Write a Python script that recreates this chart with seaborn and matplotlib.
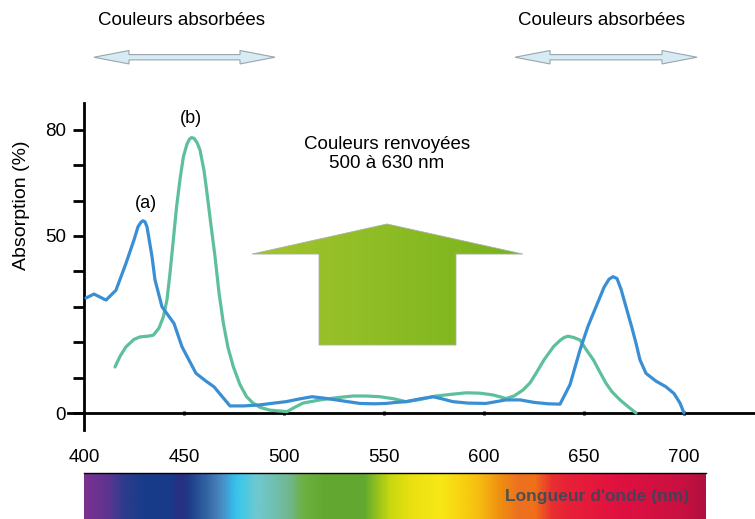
import numpy as np
import pandas as pd
import matplotlib
matplotlib.use("Agg")
import matplotlib.pyplot as plt
from matplotlib.patches import Polygon
from matplotlib.colors import LinearSegmentedColormap, to_rgb
import seaborn as sns

# ---------------- data ----------------
wl_a = [401, 405, 411, 416, 421, 425, 427, 428.5, 429.5, 430.5, 431.5, 434, 435.5, 439, 445, 449,
        456, 461, 465, 473, 480, 488, 495, 501, 508, 514, 520, 526, 532, 538, 545,
        551, 556, 561, 568, 574.5, 579, 584.5, 592, 601, 606, 611, 618, 625, 632,
        638, 643, 648, 652, 656, 660, 662.5, 664.5, 666.5, 668.5, 671, 674, 676, 678, 681, 686, 691,
        695, 698, 700]
abs_a = [32.5, 33.6, 31.9, 34.7, 42.3, 48.9, 52.6, 53.9, 54.3, 54.0, 52.6, 44.2, 37.6, 30.0, 25.3, 18.7,
         11.2, 9.0, 7.4, 2.0, 2.0, 2.3, 2.8, 3.2, 4.0, 4.6, 4.2, 3.7, 3.2, 2.7, 2.6,
         2.7, 3.0, 3.2, 4.0, 4.6, 4.0, 3.2, 2.8, 2.7, 3.2, 3.7, 3.7, 3.0, 2.6,
         2.5, 8.0, 17.8, 24.5, 30.0, 35.5, 37.8, 38.5, 38.0, 35.0, 30.0, 24.0, 19.7, 15.0, 11.2, 9.0, 7.4,
         5.5, 2.8, 0.0]

wl_b = [415.5, 418, 421, 425, 428, 432, 434.7, 437.5, 439.7, 441.5, 443, 444.5, 446.3, 448,
        449.7, 451.5, 452.8, 453.8, 455, 456.5, 458, 460, 461.3, 463.5, 465.5, 467.5, 469.7, 472, 474.7,
        478, 481.3, 484.5, 488, 493, 501.5, 505, 509.5, 518, 526, 534.5, 541, 548, 555,
        561, 568, 576, 584, 591, 598, 604.5, 611, 615, 619.5, 623, 626, 630, 634.7, 638,
        640, 642, 645, 648, 651, 654.7, 658, 661, 664, 668, 672, 676]
abs_b = [13.0, 16.0, 18.7, 20.8, 21.5, 21.7, 22.0, 24.0, 27.2, 32.0, 39.5, 48.0, 58.3, 66.0,
         72.4, 76.0, 77.4, 77.8, 77.6, 76.4, 74.3, 68.5, 63.0, 53.0, 44.2, 34.0, 25.3, 18.5, 13.0,
         8.0, 4.6, 2.8, 1.6, 0.8, 0.4, 1.5, 2.8, 3.7, 4.3, 4.8, 4.8, 4.6, 4.0,
         3.2, 3.8, 4.8, 5.3, 5.7, 5.6, 5.1, 4.1, 4.8, 6.5, 8.5, 11.2, 15.0, 18.7, 20.5,
         21.3, 21.7, 21.3, 20.6, 18.0, 15.0, 11.5, 8.4, 6.0, 3.7, 1.8, 0.0]

x_ticks = [400, 450, 500, 550, 600, 650, 700]
y_ticks = [0, 10, 20, 30, 40, 50, 60, 70, 80]
y_tick_labels = ["0", "", "", "", "", "50", "", "", "80"]

spectrum_nm = [400, 412, 420, 430, 443, 448, 452, 460, 468, 474, 478, 486, 495, 502, 510,
               520, 540, 546, 553, 563, 578, 590, 598, 608, 618, 626, 634, 643, 668, 700, 711]
spectrum_col = ["#7a3090", "#5a3590", "#2a3c8c", "#173c8a", "#1a3a88", "#2a2e80", "#1e3c8a",
                "#3060a0", "#4a88c0", "#38b8e8", "#40c8e8", "#70c8d0", "#70c0b0", "#70b890",
                "#6cb040", "#62a830", "#62a830", "#90c020", "#c8d810", "#e8e010", "#f8e818",
                "#f8d010", "#f6bc10", "#f09010", "#ec7020", "#f07018", "#e83030", "#e82038",
                "#e01040", "#c81040", "#b01040"]

df_a = pd.DataFrame({"wl": wl_a, "abs": abs_a})
df_b = pd.DataFrame({"wl": wl_b, "abs": abs_b})

# ---------------- style ----------------
sns.set_theme(style="white")
plt.rcParams["font.family"] = ["Liberation Sans", "DejaVu Sans"]
plt.rcParams["text.color"] = "black"
plt.rcParams["axes.labelcolor"] = "black"
plt.rcParams["xtick.color"] = "black"
plt.rcParams["ytick.color"] = "black"

W, H = 755, 519
fig = plt.figure(figsize=(W / 100, H / 100), dpi=100)

# main axes: px x 60..755 , px y 0..445
x_lo = 400 + (60 - 84) / 2
x_hi = 400 + (755 - 84) / 2
y_top = 413 / 3.54
y_bot = (413 - 445) / 3.54
ax = fig.add_axes([60 / W, (H - 445) / H, (W - 60) / W, 445 / H])
ax.set_facecolor("none")

sns.lineplot(data=df_a, x="wl", y="abs", color="#3a8fd4", lw=2.3, estimator=None, ax=ax, zorder=4)
sns.lineplot(data=df_b, x="wl", y="abs", color="#5ec09a", lw=2.3, estimator=None, ax=ax, zorder=3)
for ln in ax.lines:
    ln.set_solid_joinstyle("round")
    ln.set_solid_capstyle("round")

for s in ["top", "right"]:
    ax.spines[s].set_visible(False)
ax.spines["left"].set_position(("data", 400))
ax.spines["left"].set_bounds((413 - 430) / 3.54, (413 - 103) / 3.54)
ax.spines["bottom"].set_position(("data", 0))
ax.spines["bottom"].set_bounds(400 + (68 - 84) / 2, x_hi)
for s in ["left", "bottom"]:
    ax.spines[s].set_color("black")
    ax.spines[s].set_linewidth(2.0)

ax.set_yticks(y_ticks)
ax.set_yticklabels(y_tick_labels)
ax.tick_params(axis="y", direction="out", length=8, width=2, pad=5, labelsize=13.5,
               colors="black", labelcolor="black", left=True)
ax.set_xticks(x_ticks[1:])
ax.set_xticklabels([])
ax.tick_params(axis="x", direction="inout", length=2.5, width=2, bottom=True, colors="black")
ax.set_xlabel("")
ax.set_ylabel("")

# annotations
ax.text(431, 59.3, "(a)", ha="center", va="center", fontsize=13, color="black")
ax.text(453.5, 83.3, "(b)", ha="center", va="center", fontsize=13, color="black")
ax.text(551.5, 73.2, "Couleurs renvoyées\n500 à 630 nm", ha="center", va="center",
        fontsize=13.5, linespacing=1.15, color="black")

for xc in (449, 659):
    ax.text(xc, 111, "Couleurs absorbées", ha="center", va="center", fontsize=13.5, color="black")

def double_arrow(x0, x1, y, hl=17.5, hw=1.9, sw=0.75):
    pts = [(x0, y), (x0 + hl, y + hw), (x0 + hl, y + sw), (x1 - hl, y + sw), (x1 - hl, y + hw),
           (x1, y), (x1 - hl, y - hw), (x1 - hl, y - sw), (x0 + hl, y - sw), (x0 + hl, y - hw)]
    return Polygon(pts, closed=True, facecolor="#d6ebf4", edgecolor="#9aa5ad", lw=0.8, zorder=2)

ax.add_patch(double_arrow(405, 495.5, 100.5))
ax.add_patch(double_arrow(615.5, 706.5, 100.5))

# big green block arrow with horizontal gradient
tip = (551.5, 53.4)
wing_y = 44.9
arrow_pts = [(484, wing_y), tip, (619.5, wing_y), (586, wing_y), (586, 19.2),
             (517.5, 19.2), (517.5, wing_y)]
arrow_poly = Polygon(arrow_pts, closed=True, facecolor="none", edgecolor="#a9b3a0", lw=0.6, zorder=3)
ax.add_patch(arrow_poly)
c0, c1 = np.array(to_rgb("#a3c52d")), np.array(to_rgb("#77b31c"))
t = np.linspace(0, 1, 256)
grad = (c0[None, :] * (1 - t[:, None]) + c1[None, :] * t[:, None])[None, :, :]
im = ax.imshow(grad, extent=[484, 619.5, 19.2, 53.4], aspect="auto", zorder=2.5, interpolation="bilinear")
im.set_clip_path(arrow_poly)

ax.set_xlim(x_lo, x_hi)
ax.set_ylim(y_bot, y_top)

fig.text(22 / W, 1 - 205 / H, "Absorption (%)", rotation=90, ha="center", va="center",
         fontsize=14, color="black")

# spectrum bar
axs = fig.add_axes([84 / W, 0, (706 - 84) / W, 46 / H])
pos = [(v - spectrum_nm[0]) / (spectrum_nm[-1] - spectrum_nm[0]) for v in spectrum_nm]
cmap = LinearSegmentedColormap.from_list("spec", list(zip(pos, spectrum_col)))
axs.imshow(np.linspace(0, 1, 800)[None, :], cmap=cmap, aspect="auto",
           extent=[spectrum_nm[0], spectrum_nm[-1], 0, 1], interpolation="bilinear")
axs.set_xlim(spectrum_nm[0], spectrum_nm[-1])
axs.set_ylim(0, 1)
for s in ["left", "right", "bottom"]:
    axs.spines[s].set_visible(False)
axs.spines["top"].set_color("black")
axs.spines["top"].set_linewidth(1.0)
axs.set_yticks([])
axs.xaxis.tick_top()
axs.set_xticks(x_ticks)
axs.set_xticklabels([str(v) for v in x_ticks])
axs.tick_params(axis="x", length=0, pad=5, labelsize=13.5, colors="black", labelcolor="black",
                top=True, bottom=False)
axs.text(656.5, 0.5, "Longueur d'onde (nm)", ha="center", va="center", fontsize=12.5,
         fontweight="bold", color="#2c4b5c", alpha=0.85)

fig.savefig("out.png", dpi=100)
